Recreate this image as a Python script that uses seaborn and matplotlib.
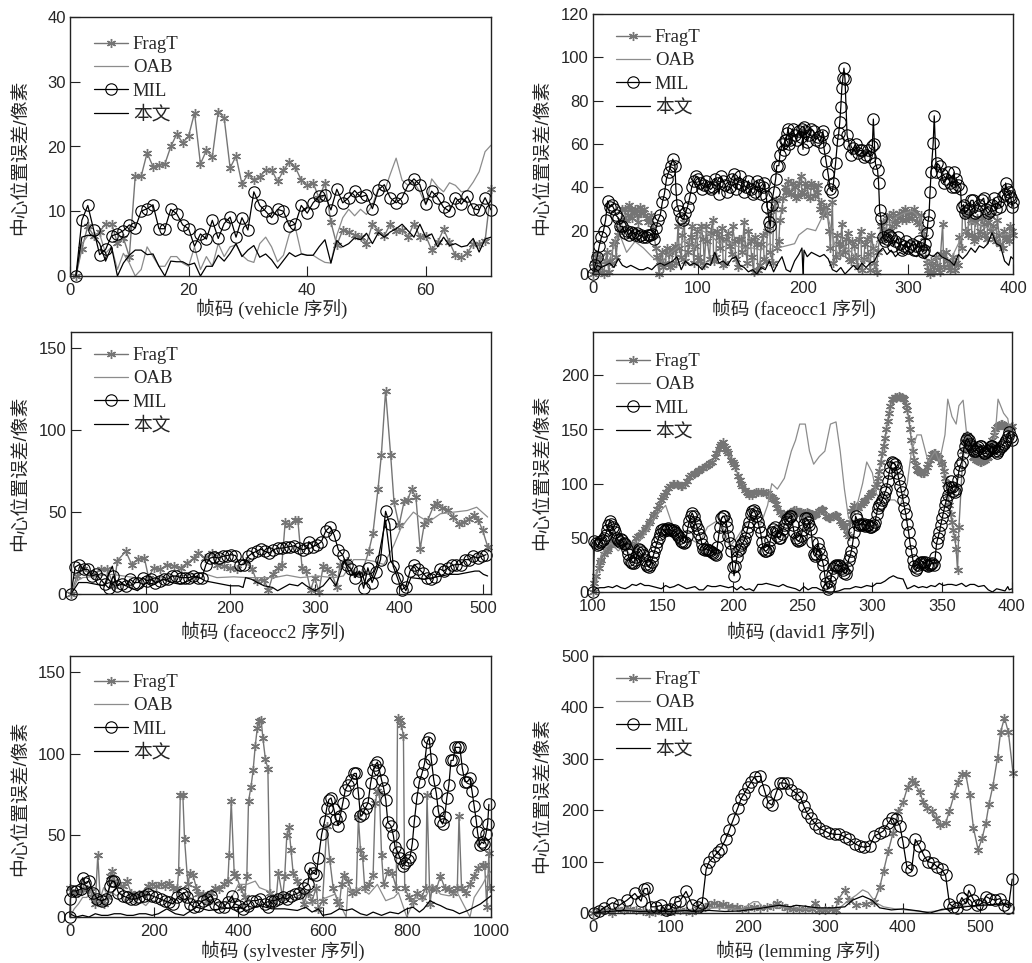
import matplotlib
matplotlib.use("Agg")
import matplotlib.pyplot as plt
import seaborn as sns

W, H = 1032, 963

# ---- data: (frame, error) pairs or plain value lists ----
vehicle_frames = list(range(1, 72))
vehicle_frag = [0, 4.2, 7.7, 6.2, 6.8, 8.1, 8.1, 5.1, 5.9, 3.0, 15.4, 15.4, 19, 16.9, 17.2, 17.3, 20, 21.9, 20.6, 21.6,
                25.2, 17.3, 19.4, 18.4, 25.4, 24.4, 16.7, 18.5, 14.2, 15.7, 14.9, 15.3, 16.4, 16.4, 14.6, 16.3, 17.6,
                16.8, 14.8, 14, 14.4, 12, 14.4, 8.3, 4.8, 7.1, 6.8, 6.3, 6.1, 5, 8, 7, 6.2, 8, 7, 7.1, 6.1, 8.1, 6.1,
                6.2, 4, 5.2, 7.2, 5.2, 3.2, 2.9, 3.5, 5, 5, 5.4, 13.4]
vehicle_oab = [0, 5, 6.2, 6.3, 6.5, 3.5, 4.5, 1, 3.5, 2, 0, 1, 4.5, 3, 1.5, 1.5, 3, 3, 2, 1.5, 4.5, 1, 3, 1.5, 5, 3,
               4.5, 4.8, 3.2, 2.4, 2.1, 5, 6, 4.5, 2.2, 3.2, 6.5, 7.5, 3.5, 3.2, 3.2, 2.6, 2.1, 2, 6.3, 9, 10.3, 9.3,
               10.3, 9.5, 11, 13.5, 13, 15.7, 18.2, 14.8, 14, 14.5, 13, 11, 15, 13.8, 13, 14.4, 14, 13, 13.2, 14.5,
               16.1, 19.2, 20.2]
vehicle_mil = [0, 8.6, 10.9, 7.1, 3.3, 4.1, 6.2, 6.5, 7, 7.9, 7.4, 10, 10.4, 11, 7.3, 7.3, 10.3, 9.6, 7.9, 7.3, 4.6,
               6.5, 5.7, 8.6, 5.8, 8.1, 9.1, 6, 9, 7.1, 13, 10.9, 10, 9, 10.3, 10, 7.7, 8, 10.9, 9.7, 11.3, 12.3, 12.5,
               10.2, 13.4, 11.3, 12.1, 13.2, 12.2, 12.5, 10.4, 13.3, 14.1, 12.1, 11.3, 12.1, 14, 15, 14.1, 11.1, 13.1,
               12.1, 10.6, 10, 12.1, 11.1, 12.3, 10.4, 10.2, 12.1, 10.2]
vehicle_ours = [0, 6, 6.3, 6.2, 5, 2.3, 4.5, 0, 2, 3.2, 4, 4, 3.3, 3.4, 1.5, 0, 2.3, 2.2, 2.2, 1.7, 2, 0, 1.5, 1.5, 3.2,
                2.3, 3.5, 5, 3, 4, 4.7, 2.9, 3.4, 2.5, 1.2, 2.4, 3.6, 3, 3.4, 3.2, 3.2, 4.5, 5.6, 2, 5.5, 4.5, 5, 5.9,
                5.6, 6.6, 5, 6.7, 6, 6.8, 7.3, 8, 7, 6, 8, 6, 6.5, 4.5, 6, 4.7, 5, 4.5, 4.7, 5.8, 3.7, 5.7, 6]

faceocc1_frag = [(0, 0), (3, 9), (6, 3), (9, 1), (12, 6), (15, 1), (18, 5), (21, 15), (24, 18), (27, 25), (30, 30),
                 (33, 27), (36, 30), (39, 28), (42, 27), (45, 31), (48, 28), (51, 26), (54, 25), (57, 21), (60, 12),
                 (63, 0), (66, 10), (69, 5), (72, 9), (75, 4), (78, 13), (81, 22), (84, 8), (87, 24), (90, 10),
                 (93, 17), (96, 5), (99, 20), (102, 6), (105, 16), (108, 22), (111, 7), (114, 25), (117, 8), (120, 17),
                 (123, 21), (126, 5), (129, 19), (132, 9), (135, 15), (138, 3), (141, 16), (144, 24), (147, 5),
                 (150, 15), (153, 1), (156, 14), (159, 4), (162, 18), (165, 6), (168, 27), (171, 5), (174, 34),
                 (177, 15), (180, 30), (183, 40), (186, 43), (189, 37), (192, 40), (195, 36), (198, 45), (201, 37),
                 (204, 40), (207, 35), (210, 40), (213, 38), (216, 30), (219, 27), (222, 31), (225, 20), (228, 33),
                 (231, 8), (234, 14), (237, 23), (240, 10), (243, 19), (246, 6), (249, 13), (252, 3), (255, 20),
                 (258, 7), (261, 16), (264, 2), (267, 12), (270, 1), (273, 16), (276, 24), (279, 20), (282, 27),
                 (285, 22), (288, 25), (291, 28), (294, 25), (297, 30), (300, 26), (303, 28), (306, 30), (309, 24),
                 (312, 27), (315, 17), (318, 5), (321, 0), (324, 3), (327, 8), (330, 1), (333, 23), (336, 10), (339, 3),
                 (342, 5), (345, 2), (348, 4), (351, 12), (354, 27), (357, 18), (360, 25), (363, 15), (366, 26),
                 (369, 20), (372, 23), (375, 16), (378, 27), (381, 22), (384, 15), (387, 18), (390, 12), (393, 17),
                 (396, 15), (399, 20)]
faceocc1_frag_more = [(1, 5), (4, 2), (7, 8), (10, 0), (13, 10), (16, 6), (19, 14), (22, 8), (25, 21), (28, 30), (31, 25),
                      (34, 32), (37, 26), (40, 30), (43, 24), (46, 28), (49, 30), (52, 24), (55, 27), (58, 18), (61, 8),
                      (64, 6), (67, 3), (70, 12), (73, 3), (76, 11), (79, 5), (82, 12), (85, 18), (88, 6), (91, 14),
                      (94, 22), (97, 13), (100, 8), (103, 22), (106, 4), (109, 15), (112, 19), (115, 6), (118, 20),
                      (121, 12), (124, 4), (127, 16), (130, 13), (133, 22), (136, 7), (139, 16), (142, 10), (145, 13),
                      (148, 20), (151, 8), (154, 17), (157, 2), (160, 14), (163, 7), (166, 20), (169, 10), (172, 30),
                      (175, 12), (178, 25), (181, 35), (184, 38), (187, 38), (190, 42), (193, 35), (196, 42), (199, 38),
                      (202, 42), (205, 36), (208, 42), (211, 36), (214, 41), (217, 33), (220, 29), (223, 28), (226, 12),
                      (229, 5), (232, 18), (235, 9), (238, 13), (241, 16), (244, 7), (247, 15), (250, 8), (253, 16),
                      (256, 2), (259, 14), (262, 9), (265, 18), (268, 5), (271, 10), (274, 22), (277, 18), (280, 26),
                      (283, 20), (286, 28), (289, 23), (292, 26), (295, 29), (298, 25), (301, 28), (304, 26), (307, 28),
                      (310, 23), (313, 20), (316, 12), (319, 2), (322, 6), (325, 1), (328, 4), (331, 9), (334, 3),
                      (337, 6), (340, 2), (343, 8), (346, 5), (349, 17), (352, 30), (355, 20), (358, 28), (361, 18),
                      (364, 24), (367, 17), (370, 26), (373, 18), (376, 24), (379, 20), (382, 16), (385, 25), (388, 14),
                      (391, 20), (394, 16), (397, 22), (400, 18)]
faceocc1_oab = [(0, 0), (8, 5), (16, 7), (24, 20), (32, 10), (40, 15), (48, 12), (56, 8), (64, 5), (72, 9), (80, 12),
                (88, 16), (96, 12), (104, 20), (112, 18), (120, 14), (128, 15), (136, 13), (144, 12), (152, 12),
                (160, 11), (168, 14), (176, 12), (184, 13), (192, 14), (196, 18), (204, 21), (212, 20), (216, 24),
                (222, 30), (226, 22), (230, 14), (234, 8), (240, 13), (248, 9), (256, 6), (264, 7), (272, 16),
                (280, 22), (288, 26), (296, 28), (304, 29), (312, 26), (318, 5), (330, 8), (340, 6), (350, 16),
                (360, 24), (370, 22), (380, 21), (390, 18), (400, 19)]
faceocc1_mil = [(0, 0), (2, 4), (4, 8), (6, 13), (8, 17), (10, 20), (12, 25), (14, 33.7), (16, 31), (20, 30), (24, 26),
                (28, 22), (32, 20), (36, 19.5), (40, 18), (44, 17.5), (48, 17), (52, 18), (56, 18.5), (58, 16), (60, 21),
                (62, 25), (64, 27), (66, 33), (68, 37), (70, 44), (72, 47), (74, 50), (76, 53), (78, 50), (79, 39),
                (80, 32), (82, 29), (84, 26), (86, 25), (88, 28), (90, 31), (92, 35), (94, 40), (96, 43), (98, 45),
                (102, 42), (106, 41), (110, 40), (114, 40), (118, 42), (122, 45), (126, 41), (130, 40), (134, 46),
                (138, 42), (142, 41), (146, 40), (150, 39), (154, 38), (158, 41), (162, 40), (165, 36), (166, 31),
                (168, 24), (169, 22), (170, 32), (172, 38), (174, 44), (175, 50), (177, 50), (178, 55), (180, 60),
                (184, 62), (186, 67), (188, 62), (192, 64), (196, 66), (199, 67), (200, 57.5), (202, 66), (206, 64),
                (210, 66), (214, 63), (218, 64), (220, 58), (222, 52), (224, 46), (226, 39), (228, 38), (229, 42),
                (231, 51), (233, 62), (234, 65), (235, 70), (236, 77), (237, 86), (238, 90.5), (239, 95), (240, 90),
                (242, 64), (244, 60), (248, 58), (252, 56), (256, 57), (260, 55), (264, 54), (266, 59), (267, 71.5),
                (268, 60), (269, 51), (271, 48), (272, 42), (273, 29.5), (274, 26), (276, 17), (280, 16), (284, 17),
                (288, 15), (292, 14), (296, 13), (300, 12), (304, 14), (308, 13), (312, 12), (315, 11), (316, 14),
                (318, 19), (319, 24), (320, 27), (321, 38), (322, 47), (324, 60.5), (325, 73), (327, 47), (330, 50),
                (332, 46), (336, 44), (340, 42), (344, 47), (345, 40), (348, 41), (350, 39), (351, 31), (354, 28),
                (358, 30), (362, 34), (366, 29), (370, 34), (374, 30), (378, 29), (382, 35), (386, 33), (390, 36),
                (393, 42), (396, 38), (398, 35), (400, 33)]
faceocc1_mil_more = [(18, 32), (22, 27), (26, 22), (30, 19), (34, 18), (38, 19), (42, 19), (46, 18), (50, 17), (54, 18),
                     (100, 44), (104, 39), (108, 43), (112, 39), (116, 44), (120, 37), (124, 43), (128, 38), (132, 44),
                     (136, 39), (140, 45), (144, 38), (148, 43), (152, 37), (156, 43), (160, 37), (163, 42), (182, 57),
                     (183, 62), (185, 65), (187, 60), (190, 67), (194, 62), (198, 63), (201, 68), (204, 61), (208, 67),
                     (212, 62), (216, 61), (219, 66), (246, 55), (250, 60), (254, 57), (258, 54), (262, 57), (278, 15),
                     (282, 18), (286, 13), (290, 17), (294, 11), (298, 15), (302, 13), (306, 11), (310, 15), (314, 10),
                     (328, 51), (334, 42), (338, 47), (342, 40), (346, 44), (353, 32), (356, 29), (360, 34), (364, 28),
                     (368, 32), (372, 35), (376, 28), (380, 32), (384, 30), (388, 31), (392, 37), (394, 39), (397, 36),
                     (399, 31)]
faceocc1_ours = [(0, 0), (4, 4), (8, 3), (12, 4), (16, 5), (20, 3), (24, 7), (28, 4), (32, 3), (36, 4), (40, 3), (44, 2),
                 (48, 2), (52, 3), (56, 2), (60, 4), (64, 5), (68, 4), (72, 5), (76, 6), (80, 8), (84, 2), (88, 6),
                 (92, 4), (96, 5), (100, 4), (104, 2), (108, 5), (112, 4), (116, 10), (120, 5), (124, 6), (128, 4),
                 (132, 7), (136, 8), (140, 4), (144, 3), (148, 1), (152, 2), (156, 0), (160, 3), (164, 2), (168, 6),
                 (172, 1), (176, 5), (180, 8), (184, 2), (188, 1), (192, 6), (196, 9), (199, 12), (200, 0), (201, 11),
                 (204, 8), (208, 10), (212, 9), (216, 8), (220, 9), (224, 7), (228, 2), (232, 1), (236, 3), (240, 0),
                 (244, 2), (248, 4), (252, 2), (256, 5), (260, 3), (264, 5), (268, 6), (272, 10), (276, 12), (280, 9),
                 (284, 11), (288, 8), (292, 10), (296, 9), (300, 11), (304, 9), (308, 8), (312, 9), (316, 7), (320, 9),
                 (324, 8), (328, 10), (332, 8), (336, 7), (340, 6), (344, 4), (348, 9), (352, 7), (356, 9), (360, 12),
                 (364, 10), (368, 13), (372, 12), (376, 14), (380, 19), (384, 14), (388, 13), (392, 6), (396, 4),
                 (398, 8), (400, 7)]

faceocc2_frag = [(11, 0), (18, 11), (25, 15), (37, 12), (46, 15), (54, 15), (62, 5), (66, 20.4), (76, 26), (83, 18),
                 (91, 21.6), (98, 22), (103, 10), (109, 16), (117, 15), (125, 18), (133, 17), (141, 16), (149, 19),
                 (157, 22), (162, 25), (170, 22), (178, 25), (184, 18), (192, 17), (200, 16), (208, 15), (218, 20),
                 (226, 15), (231, 8), (240, 8.5), (245, 2.5), (251, 12.5), (257, 16), (261, 18), (265, 44), (270, 42),
                 (277, 45), (280, 45), (285, 16), (290, 14), (295, 2.5), (300, 10), (305, 1.5), (310, 17), (315, 15),
                 (320, 13), (326, 4), (330, 18), (338, 20), (346, 13), (356, 13), (364, 26), (369, 37), (375, 64),
                 (379, 85), (384, 124), (390, 85), (394, 56), (400, 42), (406, 56.5), (410, 57.5), (415, 64), (420, 59),
                 (425, 27.5), (430, 43), (434, 45), (441, 54), (445, 55.5), (451, 52.5), (458, 51.5), (464, 47),
                 (471, 43), (477, 44), (483, 46), (489, 48), (494, 45), (499, 39), (505, 29)]
faceocc2_oab = [(11, 0), (18, 8), (25, 10), (60, 12), (100, 9), (140, 11), (165, 13), (184, 10), (204, 10.5), (220, 10),
                (236, 10), (252, 10), (267, 11.5), (283, 10), (303, 11), (322, 10), (334, 11), (346, 21), (358, 21),
                (370, 20), (382, 18), (394, 30), (402, 40), (409, 45), (417, 50), (425, 47), (435, 44), (449, 49),
                (465, 50), (481, 51), (492, 53), (505, 47)]
faceocc2_mil = [(11, 0), (16, 16.5), (21, 18), (26, 15), (31, 15), (36, 11), (41, 12), (46, 9), (51, 6), (56, 3.5),
                (61, 11), (66, 5), (71, 6), (76, 5), (81, 9), (86, 7), (91, 7), (96, 10), (101, 8), (106, 9), (111, 7),
                (116, 8), (121, 9), (126, 9), (131, 11), (136, 11), (141, 10), (146, 10), (151, 10), (156, 11),
                (161, 10), (166, 9.5), (171, 18), (176, 22), (181, 22.5), (186, 22), (191, 23), (196, 23.5), (201, 24),
                (206, 23.5), (211, 18), (216, 18), (221, 23), (226, 25), (231, 26), (236, 27.5), (241, 26), (246, 25),
                (251, 27), (256, 28), (261, 28), (266, 28.5), (271, 29), (276, 29.5), (281, 28), (286, 27), (291, 28),
                (293, 32), (298, 29), (303, 30), (308, 32), (313, 38.5), (318, 41), (323, 36), (328, 27), (333, 24),
                (338, 18), (343, 15), (348, 10), (353, 14), (358, 3.5), (363, 16), (368, 7), (373, 13.5), (378, 21),
                (384, 50.5), (389, 42.5), (393, 17), (398, 10), (403, 2.5), (408, 4.5), (413, 14), (418, 18),
                (423, 15.5), (428, 13), (433, 10), (438, 9), (443, 10.5), (448, 15.5), (453, 14), (458, 16), (463, 17.5),
                (468, 18), (473, 18), (478, 21), (483, 21), (488, 23), (493, 22), (498, 23), (503, 24)]
faceocc2_ours = [(11, 0), (20, 7), (30, 7), (40, 6), (50, 5), (60, 17), (65, 5), (70, 7), (80, 4), (90, 2), (100, 7),
                 (110, 6), (120, 9), (130, 7), (140, 6), (150, 8), (160, 11), (170, 8), (180, 7), (190, 6), (200, 5),
                 (210, 5), (215, 4), (218, 10), (225, 9), (232, 7), (240, 5), (250, 4), (256, 2), (270, 6), (280, 5),
                 (285, 7), (290, 5), (300, 2), (310, 5), (318, 10), (325, 5), (335, 20), (342, 12), (350, 12), (356, 13),
                 (360, 6), (368, 10), (374, 18), (384, 45), (390, 20), (396, 16), (402, 8), (408, 2), (414, 10),
                 (430, 9), (440, 10), (450, 11), (460, 12), (470, 12), (480, 13), (490, 14), (495, 14), (500, 12),
                 (505, 11)]

david_frag = [(100, 0), (102, 15), (105, 28), (108, 35), (111, 40), (114, 45), (117, 47), (120, 44), (123, 42), (126, 44),
              (129, 42), (132, 52), (135, 55), (138, 60), (141, 66), (144, 72), (147, 80), (150, 88), (152, 92),
              (155, 98), (158, 100), (161, 99), (164, 98), (167, 102), (170, 108), (173, 110), (176, 113), (179, 114),
              (182, 117), (185, 120), (188, 128), (191, 135), (193, 138), (195, 133), (197, 128), (200, 120), (202, 115),
              (205, 103), (207, 98), (210, 92), (212, 90), (215, 91), (218, 92), (222, 92), (225, 91), (228, 88),
              (230, 85), (232, 78), (235, 72), (238, 71), (240, 72), (243, 75), (245, 76), (248, 74), (250, 73),
              (253, 74), (255, 73), (258, 71), (260, 72), (263, 76), (265, 76), (268, 69), (270, 68), (273, 71),
              (275, 70), (278, 64), (280, 60), (283, 52), (285, 75), (287, 80), (290, 78), (293, 82), (295, 85),
              (298, 90), (300, 92), (303, 100), (305, 112), (306, 120), (308, 135), (310, 150), (312, 165), (314, 178),
              (317, 179), (320, 180), (323, 178), (325, 168), (326, 160), (328, 140), (330, 122), (333, 112), (335, 110),
              (337, 110), (340, 118), (342, 125), (345, 128), (348, 124), (350, 118), (353, 100), (355, 80), (357, 65),
              (359, 50), (360, 40), (361, 20), (362, 60), (365, 130), (368, 145), (370, 135), (372, 125), (375, 122),
              (378, 120), (381, 122), (383, 125), (386, 140), (388, 150), (391, 154), (393, 155), (396, 152), (398, 150),
              (400, 153)]
david_frag_more = [(101, 8), (104, 22), (106, 30), (110, 38), (113, 43), (115, 46), (119, 45), (122, 43), (125, 43),
                   (128, 43), (131, 50), (134, 53), (137, 58), (140, 64), (143, 70), (146, 77), (149, 85), (151, 90),
                   (154, 96), (157, 100), (160, 100), (163, 98), (166, 100), (169, 106), (172, 109), (175, 112),
                   (178, 114), (181, 116), (184, 119), (187, 125), (190, 132), (192, 137), (194, 135), (196, 130),
                   (199, 122), (201, 118), (204, 107), (206, 100), (209, 94), (211, 91), (214, 90), (217, 92), (220, 92),
                   (224, 91), (227, 89), (229, 86), (231, 81), (234, 74), (237, 71), (239, 71), (242, 74), (244, 76),
                   (247, 74), (249, 74), (252, 73), (254, 73), (257, 72), (259, 71), (262, 75), (264, 77), (267, 70),
                   (269, 68), (272, 70), (274, 71), (277, 66), (279, 62), (282, 54), (284, 65), (286, 78), (289, 79),
                   (292, 80), (294, 84), (297, 88), (299, 91), (302, 97), (304, 105), (307, 128), (309, 142), (311, 158),
                   (313, 172), (315, 178), (316, 180), (318, 180), (319, 181), (321, 180), (322, 179), (324, 173),
                   (327, 150), (329, 130), (331, 117), (332, 113), (334, 111), (336, 110), (338, 112), (339, 115),
                   (341, 122), (343, 127), (344, 128), (346, 126), (347, 125), (349, 120), (351, 112), (352, 105),
                   (354, 90), (356, 72), (358, 57), (366, 138), (367, 142), (369, 140), (371, 130), (373, 124), (374, 122),
                   (376, 121), (377, 120), (379, 121), (380, 122), (382, 124), (384, 130), (385, 135), (387, 145),
                   (389, 152), (390, 153), (392, 155), (394, 154), (395, 153), (397, 151), (399, 152)]
david_oab = [(100, 0), (103, 20), (106, 35), (110, 42), (113, 45), (118, 38), (122, 42), (128, 32), (132, 45), (138, 55),
             (145, 70), (152, 80), (156, 65), (160, 55), (168, 50), (175, 45), (178, 50), (182, 60), (188, 65), (193, 60),
             (198, 42), (203, 50), (208, 60), (213, 68), (220, 62), (225, 80), (228, 100), (232, 95), (237, 105),
             (242, 130), (245, 140), (248, 155), (252, 155), (255, 130), (258, 118), (262, 125), (266, 130), (270, 155),
             (274, 157), (277, 130), (280, 95), (283, 68), (288, 75), (293, 100), (296, 120), (300, 110), (303, 90),
             (310, 85), (316, 85), (320, 80), (325, 100), (328, 130), (332, 145), (335, 145), (340, 120), (345, 130),
             (348, 120), (352, 145), (354, 178), (357, 162), (360, 155), (362, 172), (365, 177), (368, 140), (372, 125),
             (378, 125), (382, 125), (388, 145), (390, 178), (394, 165), (397, 160), (400, 135)]
david_mil = [(100, 0), (101, 47), (103, 43), (106, 47), (108, 50), (110, 57), (112, 66), (114, 60), (116, 55), (118, 48),
             (121, 48), (123, 44), (125, 35), (127, 28), (129, 27), (131, 32), (133, 40), (135, 37), (137, 30), (139, 24),
             (141, 25), (143, 33), (145, 42), (147, 50), (149, 57), (152, 58), (155, 58), (158, 57), (161, 52), (164, 46),
             (166, 46), (168, 60), (170, 70), (171, 73), (173, 65), (175, 58), (177, 50), (179, 40), (181, 40), (184, 38),
             (186, 36), (188, 34), (190, 52), (192, 68), (194, 70), (196, 60), (198, 45), (199, 38), (200, 23), (201, 15),
             (202, 24), (204, 38), (206, 43), (208, 47), (210, 55), (212, 65), (214, 75), (216, 73), (218, 65), (220, 55),
             (222, 40), (224, 38), (226, 42), (228, 55), (230, 60), (232, 52), (234, 50), (236, 58), (238, 65), (240, 68),
             (242, 70), (244, 55), (246, 48), (248, 48), (250, 57), (252, 68), (254, 65), (256, 58), (258, 35), (260, 35),
             (261, 45), (263, 35), (265, 25), (266, 15), (268, 3), (270, 10), (272, 22), (274, 25), (277, 24), (279, 20),
             (281, 17), (283, 30), (285, 38), (287, 55), (288, 70), (290, 62), (293, 62), (296, 62), (299, 60), (302, 65),
             (304, 78), (306, 82), (308, 88), (310, 95), (312, 110), (314, 120), (316, 118), (318, 110), (320, 98),
             (322, 85), (324, 72), (326, 55), (327, 45), (329, 30), (331, 20), (333, 25), (335, 28), (338, 28), (340, 24),
             (342, 26), (344, 25), (346, 45), (348, 55), (350, 68), (352, 80), (354, 90), (356, 102), (358, 93), (360, 95),
             (362, 112), (364, 120), (366, 135), (368, 142), (371, 135), (374, 130), (378, 135), (380, 128), (383, 130),
             (386, 135), (390, 130), (393, 135), (396, 140), (398, 148), (400, 140)]
david_mil_more = [(102, 45), (104, 44), (105, 46), (107, 48), (109, 53), (111, 62), (113, 63), (115, 58), (117, 50),
                  (119, 46), (120, 49), (122, 45), (124, 40), (126, 30), (128, 27), (130, 30), (132, 37), (134, 39),
                  (136, 34), (138, 26), (140, 23), (142, 28), (144, 37), (146, 46), (148, 54), (150, 58), (151, 56),
                  (153, 57), (154, 59), (156, 57), (157, 56), (159, 55), (160, 54), (162, 50), (163, 47), (165, 45),
                  (167, 52), (169, 66), (172, 70), (174, 62), (176, 54), (178, 44), (180, 39), (182, 39), (183, 39),
                  (185, 37), (187, 35), (189, 42), (191, 60), (193, 70), (195, 66), (197, 52), (203, 32), (205, 40),
                  (207, 45), (209, 50), (211, 60), (213, 72), (215, 76), (217, 70), (219, 60), (221, 46), (223, 38),
                  (225, 39), (227, 48), (229, 58), (231, 56), (233, 50), (235, 54), (237, 62), (239, 67), (241, 70),
                  (243, 62), (245, 50), (247, 47), (249, 52), (251, 63), (253, 68), (255, 62), (257, 46), (259, 33),
                  (262, 40), (264, 30), (267, 8), (269, 5), (271, 16), (273, 24), (275, 24), (276, 25), (278, 22),
                  (280, 18), (282, 22), (284, 33), (286, 46), (289, 67), (291, 63), (292, 62), (294, 63), (295, 61),
                  (297, 62), (298, 60), (300, 61), (301, 62), (303, 72), (305, 80), (307, 85), (309, 92), (311, 102),
                  (313, 115), (315, 119), (317, 115), (319, 104), (321, 92), (323, 78), (325, 63), (328, 38), (330, 24),
                  (332, 22), (334, 27), (336, 28), (337, 26), (339, 25), (341, 25), (343, 27), (345, 32), (347, 50),
                  (349, 62), (351, 74), (353, 85), (355, 97), (357, 97), (359, 92), (361, 103), (363, 117), (365, 128),
                  (367, 140), (369, 140), (370, 137), (372, 132), (373, 130), (375, 132), (376, 134), (377, 135),
                  (379, 130), (381, 128), (382, 130), (384, 132), (385, 135), (387, 133), (388, 130), (389, 128),
                  (391, 132), (392, 134), (394, 137), (395, 138), (397, 144), (399, 143)]
david_ours = [(100, 0), (102, 3), (105, 4), (108, 4), (111, 5), (114, 4), (117, 6), (120, 4), (123, 3), (126, 5), (128, 7),
              (131, 6), (134, 8), (137, 6), (140, 6), (143, 5), (146, 4), (149, 3), (152, 6), (155, 4), (158, 5), (161, 7),
              (164, 5), (167, 3), (170, 4), (173, 5), (176, 2), (179, 2), (182, 6), (185, 5), (188, 5), (191, 6), (194, 5),
              (197, 4), (200, 5), (203, 2), (206, 5), (209, 2), (212, 3), (215, 1), (218, 7), (221, 7), (224, 8), (227, 7),
              (230, 6), (233, 5), (236, 7), (239, 5), (242, 4), (245, 3), (248, 1), (251, 5), (254, 2), (257, 4), (260, 4),
              (263, 2), (266, 1), (269, 0), (272, 0), (276, 1), (280, 3), (284, 3), (288, 5), (292, 4), (296, 6), (300, 5),
              (303, 8), (306, 8), (309, 10), (312, 13), (315, 15), (318, 13), (322, 12), (325, 3), (327, 4), (330, 6),
              (333, 4), (336, 5), (339, 4), (342, 6), (345, 5), (348, 8), (351, 6), (354, 7), (357, 7), (360, 6), (364, 8),
              (367, 5), (370, 7), (373, 7), (376, 5), (380, 6), (383, 2), (386, 0), (389, 3), (392, 2), (395, 1), (397, 5),
              (398, 2), (400, 3)]

sylvester_frag = [(0, 18), (10, 15), (20, 15), (30, 17), (40, 17), (50, 16), (55, 12), (60, 8), (66, 38), (72, 10), (80, 8),
                  (90, 12), (96, 25), (100, 28), (105, 22), (115, 20), (125, 19), (135, 22), (145, 15), (155, 12),
                  (165, 14), (175, 15), (185, 19), (195, 20), (205, 19), (215, 20), (225, 19), (235, 21), (245, 18),
                  (255, 18), (258, 28), (262, 75), (268, 75), (272, 48), (280, 20), (285, 27), (292, 26), (300, 18),
                  (305, 14), (315, 14), (325, 10), (335, 15), (345, 18), (355, 17), (365, 20), (375, 22), (378, 38),
                  (383, 71), (390, 27), (395, 25), (405, 18), (415, 12), (420, 25), (424, 71), (430, 80), (435, 90),
                  (440, 105), (445, 116), (450, 120), (454, 121), (458, 110), (464, 97), (470, 91), (475, 15), (482, 10),
                  (490, 12), (495, 27), (505, 12), (510, 25), (515, 50), (520, 55), (525, 41), (530, 27), (540, 22),
                  (550, 15), (555, 8), (565, 15), (575, 10), (585, 18), (590, 5), (600, 10), (610, 56), (617, 35),
                  (625, 18), (635, 10), (640, 8), (645, 20), (650, 26), (660, 22), (670, 15), (680, 16), (685, 61),
                  (690, 41), (695, 37), (700, 18), (710, 20), (720, 26), (725, 70), (730, 77), (735, 76), (740, 38),
                  (745, 20), (755, 28), (765, 27), (775, 18), (778, 122), (783, 121), (787, 118), (792, 111), (795, 18),
                  (805, 12), (815, 9), (825, 15), (835, 12), (845, 18), (848, 75), (855, 8), (860, 18), (870, 17),
                  (880, 25), (890, 18), (900, 17), (910, 15), (920, 18), (924, 62), (930, 18), (940, 15), (950, 20),
                  (960, 25), (970, 30), (980, 32), (985, 32), (990, 6), (995, 39), (997, 18)]
sylvester_oab = [(0, 0), (10, 5), (20, 8), (30, 12), (40, 12), (50, 16), (60, 11), (70, 10), (80, 18), (90, 13), (100, 15),
                 (110, 13), (120, 15), (130, 10), (140, 12), (150, 9), (160, 8), (170, 9), (180, 7), (190, 10), (200, 10),
                 (210, 9), (220, 10), (230, 9), (240, 8), (250, 10), (260, 12), (270, 9), (285, 12), (300, 10), (320, 9),
                 (340, 8), (360, 9), (380, 10), (400, 20), (420, 20), (440, 22), (450, 18), (470, 16), (490, 12),
                 (510, 10), (530, 12), (550, 12), (570, 8), (590, 10), (610, 12), (630, 14), (656, 0), (660, 18),
                 (670, 15), (690, 18), (710, 14), (730, 20), (750, 10), (770, 12), (780, 15), (800, 0), (820, 12),
                 (840, 10), (860, 20), (880, 14), (900, 13), (920, 15), (940, 5), (950, 0), (960, 12), (980, 20),
                 (990, 25), (1000, 28)]
sylvester_mil = [(0, 0), (1, 11), (5, 16), (15, 16), (25, 17), (30, 24), (35, 21), (45, 22), (55, 15), (65, 11), (75, 10),
                 (85, 11), (95, 19), (100, 22), (105, 22), (115, 15), (125, 13), (135, 12), (145, 11), (155, 11), (165, 12),
                 (175, 13), (185, 14), (195, 13), (205, 12), (215, 11), (225, 10), (235, 9), (245, 8), (255, 12), (265, 14),
                 (270, 15), (278, 12), (285, 8), (295, 6), (305, 7), (315, 10), (325, 11), (335, 13), (345, 8), (355, 6),
                 (365, 6), (375, 9), (385, 13), (392, 8), (402, 7), (412, 5), (422, 7), (432, 10), (442, 10), (452, 11),
                 (462, 8), (470, 6), (478, 10), (485, 10), (495, 11), (505, 12), (515, 11), (525, 13), (535, 14), (545, 15),
                 (555, 18), (565, 20), (570, 30), (578, 27), (585, 26), (590, 36), (598, 51), (605, 59), (610, 67), (615, 72),
                 (620, 73), (627, 66), (632, 60), (637, 56), (642, 62), (648, 70), (654, 78), (660, 81), (668, 84), (675, 88),
                 (680, 88), (685, 76), (690, 62), (695, 63), (702, 67), (708, 70), (714, 82), (720, 90), (725, 93), (730, 95),
                 (735, 90), (740, 84), (745, 79), (750, 72), (755, 58), (762, 56), (768, 50), (772, 43), (778, 40), (784, 36),
                 (790, 31), (796, 33), (802, 35), (808, 37), (813, 45), (818, 59), (824, 73), (830, 83), (836, 88), (842, 94),
                 (848, 107), (853, 110), (858, 97), (864, 84), (870, 76), (875, 65), (880, 59), (885, 57), (890, 61),
                 (895, 73), (900, 81), (905, 96), (910, 96), (915, 104), (921, 104), (926, 104), (932, 91), (938, 83),
                 (944, 83), (950, 85), (955, 77), (960, 68), (965, 59), (968, 52), (973, 44), (978, 46), (983, 45), (988, 51),
                 (992, 57), (995, 69)]
sylvester_ours = [(0, 2), (15, 0), (30, 1), (45, 0), (60, 2), (75, 1), (90, 1), (105, 2), (120, 2), (135, 1), (150, 1),
                  (165, 2), (180, 2), (195, 1), (210, 2), (230, 5), (250, 2), (270, 1), (300, 6), (330, 4), (360, 5),
                  (400, 6), (420, 4), (450, 7), (480, 5), (510, 5), (540, 4), (560, 6), (575, 3), (590, 5), (600, 1),
                  (620, 2), (640, 5), (655, 4), (670, 5), (690, 2), (705, 1), (720, 3), (740, 1), (760, 3), (780, 2),
                  (800, 5), (815, 6), (830, 3), (840, 5), (855, 10), (870, 8), (880, 7), (895, 5), (910, 4), (925, 2),
                  (945, 4), (960, 6), (975, 8), (985, 10), (1000, 13)]

lemming_frag = [(0, 0), (8, 3), (16, 5), (24, 0), (32, 8), (40, 5), (48, 8), (56, 5), (64, 3), (72, 0), (80, 2), (88, 4),
                (96, 2), (104, 3), (112, 6), (120, 4), (128, 2), (136, 8), (144, 12), (150, 15), (156, 20), (162, 15),
                (168, 18), (174, 14), (180, 12), (186, 12), (192, 8), (200, 10), (208, 12), (216, 10), (224, 12), (232, 14),
                (238, 20), (244, 14), (250, 10), (258, 8), (266, 7), (274, 8), (282, 8), (286, 20), (292, 6), (300, 5),
                (308, 7), (313, 6), (316, 25), (325, 45), (331, 25), (340, 15), (352, 18), (363, 22), (370, 50), (375, 82),
                (381, 120), (387, 155), (394, 198), (400, 215), (406, 245), (412, 258), (415, 252), (422, 235), (426, 215),
                (431, 205), (437, 198), (442, 185), (448, 172), (455, 175), (460, 198), (466, 230), (471, 255), (476, 270),
                (481, 270), (486, 230), (491, 165), (497, 123), (502, 145), (507, 175), (511, 212), (516, 247), (522, 302),
                (526, 352), (531, 380), (536, 352), (542, 273)]
lemming_oab = [(0, 0), (20, 5), (40, 8), (60, 5), (80, 4), (100, 6), (120, 5), (140, 8), (160, 10), (180, 8), (190, 6),
               (200, 15), (207, 22), (213, 22), (220, 10), (240, 12), (250, 10), (258, 12), (270, 8), (290, 8), (310, 8),
               (320, 12), (330, 25), (340, 35), (348, 45), (355, 40), (365, 20), (375, 12), (390, 8), (410, 5), (430, 2),
               (450, 5), (470, 15), (490, 12), (510, 15), (530, 18), (540, 12)]
lemming_mil = [(1, 0), (8, 3), (14, 10), (25, 20), (34, 15), (44, 25), (54, 38), (62, 23), (66, 47), (70, 48), (75, 12),
               (81, 12), (88, 15), (94, 5), (100, 8), (106, 21), (112, 23), (120, 42), (128, 16), (135, 12), (141, 20),
               (146, 85), (150, 100), (156, 110), (161, 118), (165, 125), (171, 143), (176, 162), (181, 182), (187, 205),
               (191, 222), (195, 232), (200, 245), (204, 255), (209, 265), (216, 266), (221, 240), (226, 215), (231, 210),
               (236, 232), (241, 253), (245, 253), (250, 252), (256, 240), (263, 232), (268, 225), (272, 208), (276, 195),
               (281, 185), (287, 173), (292, 165), (299, 160), (305, 155), (312, 153), (318, 153), (325, 148), (331, 143),
               (338, 135), (344, 130), (350, 128), (357, 130), (363, 150), (370, 155), (375, 160), (381, 175), (386, 185),
               (391, 182), (396, 170), (400, 138), (405, 90), (411, 83), (416, 143), (421, 130), (427, 112), (432, 100),
               (439, 97), (444, 90), (450, 85), (455, 73), (460, 18), (465, 12), (470, 10), (476, 30), (481, 18), (485, 44),
               (491, 26), (496, 15), (501, 18), (507, 32), (512, 28), (519, 25), (525, 28), (531, 15), (536, 10), (541, 66)]
lemming_ours = [(0, 0), (20, 3), (40, 5), (60, 3), (80, 4), (100, 3), (120, 5), (130, 3), (150, 5), (170, 3), (190, 4),
                (200, 6), (220, 10), (240, 15), (255, 12), (262, 15), (275, 13), (290, 10), (310, 10), (325, 12), (335, 25),
                (348, 33), (360, 25), (370, 10), (385, 6), (400, 8), (420, 4), (435, 0), (450, 7), (470, 10), (490, 14),
                (510, 16), (530, 18), (540, 15)]

LABELS = ["FragT", "OAB", "MIL", "本文"]
Y_LABEL = "中心位置误差/像素"
vehicle_xticks, vehicle_yticks = [0, 20, 40, 60], [0, 10, 20, 30, 40]
faceocc1_xticks, faceocc1_yticks = [0, 100, 200, 300, 400], [0, 20, 40, 60, 80, 100, 120]
faceocc2_xticks, faceocc2_yticks = [100, 200, 300, 400, 500], [0, 50, 100, 150]
david_xticks, david_yticks = [100, 150, 200, 250, 300, 350, 400], [0, 50, 100, 150, 200]
sylvester_xticks, sylvester_yticks = [0, 200, 400, 600, 800, 1000], [0, 50, 100, 150]
lemming_xticks, lemming_yticks = [0, 100, 200, 300, 400, 500], [0, 100, 200, 300, 400, 500]


def unzip(pairs):
    return [p[0] for p in pairs], [p[1] for p in pairs]


def from_list(vals):
    return list(zip(vehicle_frames, vals))


panels = [
    dict(xlabel="帧码 (vehicle 序列)", series=[from_list(vehicle_frag), from_list(vehicle_oab), from_list(vehicle_mil), from_list(vehicle_ours)],
         xlim=(0, 71), ylim=(0, 40), xticks=vehicle_xticks, yticks=vehicle_yticks,
         box=(70, 17, 491, 276), xlab=(272, 309), ylab=(20, 157), leg=(94, 36)),
    dict(xlabel="帧码 (faceocc1 序列)", series=[sorted(faceocc1_frag + faceocc1_frag_more), faceocc1_oab, sorted(faceocc1_mil + faceocc1_mil_more), faceocc1_ours],
         xlim=(0, 400), ylim=(0, 120), xticks=faceocc1_xticks, yticks=faceocc1_yticks,
         box=(593, 14, 1013, 274), xlab=(794, 309), ylab=(542, 157), leg=(616, 29)),
    dict(xlabel="帧码 (faceocc2 序列)", series=[faceocc2_frag, faceocc2_oab, faceocc2_mil, faceocc2_ours],
         xlim=(11, 509), ylim=(0, 160), xticks=faceocc2_xticks, yticks=faceocc2_yticks,
         box=(71, 332, 491, 594), xlab=(263, 632), ylab=(20, 473), leg=(94, 347)),
    dict(xlabel="帧码 (david1 序列)", series=[sorted(david_frag + david_frag_more), david_oab, sorted(david_mil + david_mil_more), david_ours],
         xlim=(100, 400), ylim=(0, 240), xticks=david_xticks, yticks=david_yticks,
         box=(593, 332, 1012, 592), xlab=(801, 632), ylab=(542, 472), leg=(616, 353)),
    dict(xlabel="帧码 (sylvester 序列)", series=[sylvester_frag, sylvester_oab, sylvester_mil, sylvester_ours],
         xlim=(0, 1000), ylim=(0, 160), xticks=sylvester_xticks, yticks=sylvester_yticks,
         box=(70, 656, 491, 917), xlab=(283, 951), ylab=(20, 798), leg=(94, 674)),
    dict(xlabel="帧码 (lemming 序列)", series=[lemming_frag, lemming_oab, lemming_mil, lemming_ours],
         xlim=(0, 542), ylim=(0, 500), xticks=lemming_xticks, yticks=lemming_yticks,
         box=(593, 656, 1013, 913), xlab=(798, 951), ylab=(542, 795), leg=(616, 671)),
]

styles = [
    dict(color="#757575", linewidth=1.0, marker=(6, 2, 0), markersize=6.5, markeredgecolor="#757575", markeredgewidth=1.0),
    dict(color="#8c8c8c", linewidth=0.9),
    dict(color="black", linewidth=0.9, marker="o", markersize=8.2, markerfacecolor="none", markeredgecolor="black", markeredgewidth=0.8),
    dict(color="black", linewidth=0.9),
]

sns.set_style("ticks", {"xtick.direction": "in", "ytick.direction": "in"})
serif = ["Liberation Serif", "Noto Sans CJK SC"]
plt.rcParams["font.family"] = ["Liberation Sans", "Noto Sans CJK SC"]

fig = plt.figure(figsize=(W / 100, H / 100), dpi=100, facecolor="white")

for p in panels:
    left, top, right, bottom = p["box"]
    ax = fig.add_axes([left / W, 1 - bottom / H, (right - left) / W, (bottom - top) / H])
    for name, pairs, st in zip(LABELS, p["series"], styles):
        xs, ys = unzip(pairs)
        sns.lineplot(x=xs, y=ys, ax=ax, label=name, estimator=None, sort=False, errorbar=None, clip_on=False, **st)

    ax.set_xlim(p["xlim"])
    ax.set_ylim(p["ylim"])
    ax.set_xticks(p["xticks"])
    ax.set_yticks(p["yticks"])
    ax.tick_params(axis="both", direction="in", length=7, width=0.8, labelsize=12, color="#222222")
    ax.tick_params(axis="x", pad=5)
    ax.tick_params(axis="y", pad=3)
    for sp in ax.spines.values():
        sp.set_visible(True)
        sp.set_linewidth(1.0)
        sp.set_color("#222222")

    ax.set_xlabel(p["xlabel"], family=serif, fontsize=13.5, va="center", ha="center")
    ax.set_ylabel(Y_LABEL, fontsize=13.5, va="center", ha="center")
    ax.xaxis.set_label_coords(p["xlab"][0] / W, 1 - p["xlab"][1] / H, transform=fig.transFigure)
    ax.yaxis.set_label_coords(p["ylab"][0] / W, 1 - p["ylab"][1] / H, transform=fig.transFigure)

    ax.legend(loc="upper left", bbox_to_anchor=(p["leg"][0] / W, 1 - p["leg"][1] / H),
              bbox_transform=fig.transFigure, frameon=False, borderaxespad=0, borderpad=0,
              prop=dict(family=serif, size=13.5), handlelength=1.8, handletextpad=0.27, labelspacing=0.33)

fig.savefig("out.png", dpi=100)
